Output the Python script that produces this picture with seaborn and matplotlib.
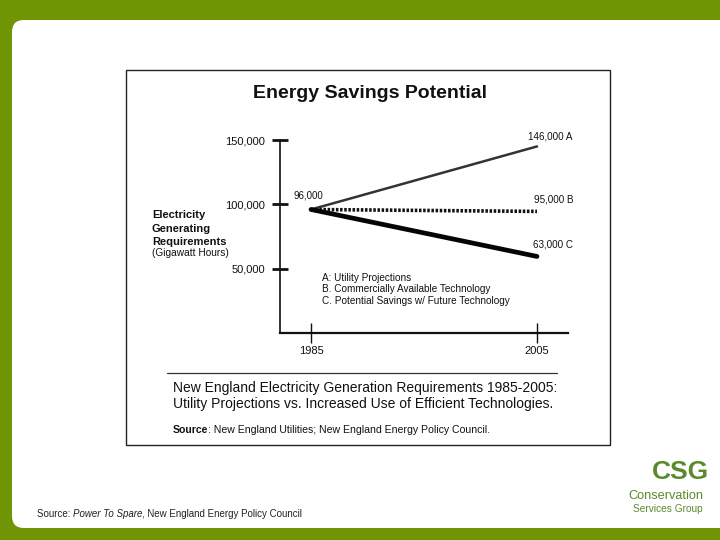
import matplotlib
matplotlib.use("Agg")

import matplotlib.pyplot as plt
import pandas as pd
import seaborn as sns
from matplotlib.patches import FancyBboxPatch, Rectangle

# chart values
years = [1985, 2005]
scenarios = ["A", "B", "C"]
start_value = 96000
end_values = [145000, 94500, 59500]
start_label = "96,000"
end_labels = ["146,000 A", "95,000 B", "63,000 C"]
y_ticks = [50000, 100000, 150000]
y_tick_labels = ["50,000", "100,000", "150,000"]
legend_lines = [
    "A: Utility Projections",
    "B. Commercially Available Technology",
    "C. Potential Savings w/ Future Technology",
]
ylabel_lines = ["Electricity", "Generating", "Requirements"]
caption_lines = [
    "New England Electricity Generation Requirements 1985-2005:",
    "Utility Projections vs. Increased Use of Efficient Technologies.",
]

GREEN_BG = "#6f9404"
LOGO_GREEN = "#5a8a2c"
INK = "#111111"

sns.set_style("white")
plt.rcParams["font.family"] = ["Liberation Sans", "DejaVu Sans"]

rows = []
for s, end in zip(scenarios, end_values):
    rows.append({"year": years[0], "gwh": start_value, "scenario": s})
    rows.append({"year": years[1], "gwh": end, "scenario": s})
df = pd.DataFrame(rows)

fig = plt.figure(figsize=(7.2, 5.4), dpi=100)
fig.patch.set_facecolor(GREEN_BG)

# slide background in pixel coordinates
bg = fig.add_axes([0, 0, 1, 1])
bg.set_xlim(0, 720)
bg.set_ylim(540, 0)
bg.axis("off")
bg.add_patch(FancyBboxPatch((12, 20), 760, 508, boxstyle="round,pad=0,rounding_size=12",
                            fc="white", ec="none"))
bg.add_patch(Rectangle((126, 70), 484, 375, fill=False, ec="#222222", lw=1.0))

bg.text(370, 93, "Energy Savings Potential", ha="center", va="center",
        fontsize=14, fontweight="bold", color=INK)

for i, line in enumerate(ylabel_lines):
    bg.text(152, 215 + i * 13.5, line, ha="left", va="center", fontsize=8,
            fontweight="bold", color=INK)
bg.text(152, 253, "(Gigawatt Hours)", ha="left", va="center", fontsize=7.3, color=INK)

for i, line in enumerate(legend_lines):
    bg.text(322, 278 + i * 11.5, line, ha="left", va="center", fontsize=7.2, color=INK)

bg.plot([167, 557], [373, 373], color="#333333", lw=0.9)
for i, line in enumerate(caption_lines):
    bg.text(173, 388 + i * 16, line, ha="left", va="center", fontsize=10, color=INK)

fig.canvas.draw()
renderer = fig.canvas.get_renderer()


def chain(x, y, parts, **kw):
    # place text pieces one after the other on the same baseline
    for txt, style in parts:
        t = bg.text(x, y, txt, ha="left", va="baseline", **style, **kw)
        ext = t.get_window_extent(renderer)
        x += ext.width


chain(173, 433, [("Source", {"fontweight": "bold"}),
                 (": New England Utilities; New England Energy Policy Council.", {})],
      fontsize=7.6, color=INK)

chain(37, 517, [("Source: ", {}), ("Power To Spare", {"fontstyle": "italic"}),
                (", New England Energy Policy Council", {})],
      fontsize=7.0, color="#222222")

# logo
bg.text(680, 472, "CSG", ha="center", va="center", fontsize=19, color=LOGO_GREEN,
        fontweight="bold")
bg.text(666, 496, "Conservation", ha="center", va="center", fontsize=9.2,
        color=LOGO_GREEN)
bg.text(668, 508.5, "Services Group", ha="center", va="center", fontsize=7.3,
        color=LOGO_GREEN)

# the chart itself
ax = fig.add_axes([280 / 720, (540 - 333) / 540, 288 / 720, 193 / 540])
ax.patch.set_alpha(0)
sns.lineplot(
    data=df, x="year", y="gwh", hue="scenario", style="scenario", size="scenario",
    palette={"A": "#333333", "B": "#111111", "C": "#050505"},
    sizes={"A": 1.8, "B": 2.6, "C": 3.4},
    dashes={"A": "", "B": (0.7, 0.45), "C": ""},
    legend=False, ax=ax,
)
ax.set_xlim(1985 - 31 / 11.3, 2005 + 31 / 11.3)
ax.set_ylim(0, 150000)
ax.set_xlabel("")
ax.set_ylabel("")
sns.despine(ax=ax)
ax.spines["left"].set_linewidth(1.2)
ax.spines["bottom"].set_linewidth(1.6)
ax.spines["left"].set_color(INK)
ax.spines["bottom"].set_color(INK)

ax.set_yticks(y_ticks)
ax.set_yticklabels(y_tick_labels)
ax.set_xticks(years)
ax.set_xticklabels([str(y) for y in years])
ax.tick_params(axis="y", direction="inout", length=11.5, width=2.0, pad=5,
               labelsize=8, colors=INK, left=True)
ax.tick_params(axis="x", direction="inout", length=14, width=1.0, pad=2,
               labelsize=8, colors=INK, bottom=True)

ax.annotate(start_label, (years[0], start_value), xytext=(-17, 14),
            textcoords="offset pixels", ha="left", va="center", fontsize=7, color=INK)
for end, label, dy in zip(end_values, end_labels, [10, 12, 12]):
    ax.annotate(label, (years[1], end), xytext=(36, dy), textcoords="offset pixels",
                ha="right", va="center", fontsize=7.1, color=INK,
                annotation_clip=False)

fig.savefig("out.png", dpi=100, facecolor=fig.get_facecolor())
